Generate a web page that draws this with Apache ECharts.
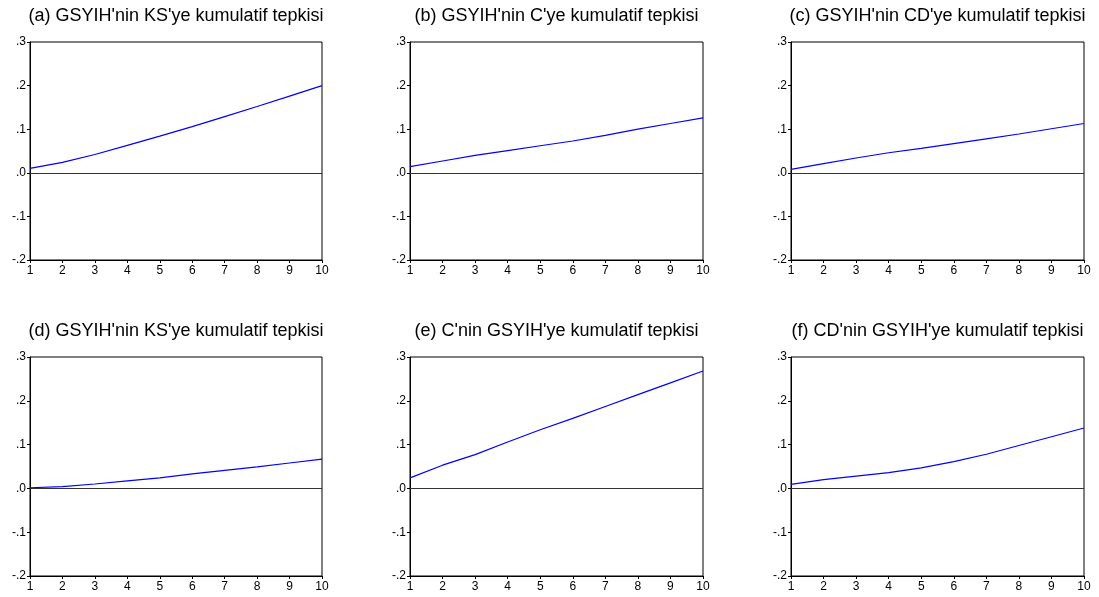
<!DOCTYPE html>
<html>
<head>
<meta charset="utf-8">
<script src="https://cdn.jsdelivr.net/npm/echarts@6/dist/echarts.min.js"></script>
<style>
  html, body { margin: 0; padding: 0; background: #fff; }
  #chart { width: 1099px; height: 597px; }
</style>
</head>
<body>
<div id="chart"></div>
<script>
// Forecast horizons (periods after the shock)
const horizons = ['1', '2', '3', '4', '5', '6', '7', '8', '9', '10'];

// Panel titles
const panelTitles = [
  "(a) GSYIH'nin KS'ye kumulatif tepkisi",
  "(b) GSYIH'nin C'ye kumulatif tepkisi",
  "(c) GSYIH'nin CD'ye kumulatif tepkisi",
  "(d) GSYIH'nin KS'ye kumulatif tepkisi",
  "(e) C'nin GSYIH'ye kumulatif tepkisi",
  "(f) CD'nin GSYIH'ye kumulatif tepkisi"
];

// Cumulative impulse responses, one array per panel
const respA = [0.010, 0.024, 0.042, 0.063, 0.084, 0.106, 0.129, 0.152, 0.176, 0.200];
const respB = [0.014, 0.027, 0.040, 0.051, 0.062, 0.073, 0.086, 0.100, 0.113, 0.126];
const respC = [0.008, 0.021, 0.034, 0.046, 0.056, 0.067, 0.078, 0.089, 0.101, 0.113];
const respD = [0.0015, 0.004, 0.010, 0.017, 0.024, 0.033, 0.041, 0.049, 0.058, 0.067];
const respE = [0.024, 0.053, 0.077, 0.106, 0.134, 0.160, 0.187, 0.214, 0.241, 0.268];
const respF = [0.009, 0.020, 0.028, 0.036, 0.047, 0.061, 0.078, 0.098, 0.118, 0.138];

// Shared value-axis range and tick step
const yMin = -0.2, yMax = 0.3, yStep = 0.1;

const responses = [respA, respB, respC, respD, respE, respF];

// Plot-area boxes (px): left, top, width, height
const colLeft = [30, 410, 791];
const colWidth = [292, 293, 293];
const rowTop = [42, 357];
const rowHeight = [218, 219];
const titleTop = [7, 322];

const FONT = 'Liberation Sans, Arial, sans-serif';

function fmtTick(v) {
  return Number(v).toFixed(1).replace('0.', '.');
}

const grids = [], xAxes = [], yAxes = [], series = [], titles = [];
responses.forEach((data, i) => {
  const r = Math.floor(i / 3), c = i % 3;
  grids.push({
    left: colLeft[c], top: rowTop[r], width: colWidth[c], height: rowHeight[r],
    show: true, borderColor: '#000', borderWidth: 1, backgroundColor: '#fff'
  });
  xAxes.push({
    type: 'category', gridIndex: i, data: horizons, boundaryGap: false,
    axisLine: { show: true, onZero: false, lineStyle: { color: '#000', width: 1 } },
    axisTick: { show: true, inside: false, length: 3, alignWithLabel: true, lineStyle: { color: '#000' } },
    axisLabel: { color: '#000', fontSize: 12, fontFamily: FONT, margin: 5, interval: 0 },
    splitLine: { show: false }
  });
  yAxes.push({
    type: 'value', gridIndex: i, min: yMin, max: yMax, interval: yStep,
    axisLine: { show: true, lineStyle: { color: '#000', width: 1 } },
    axisTick: { show: true, inside: false, length: 3, lineStyle: { color: '#000' } },
    axisLabel: { color: '#000', fontSize: 12, fontFamily: FONT, margin: 4, formatter: fmtTick },
    splitLine: { show: false }
  });
  series.push({
    type: 'line', xAxisIndex: i, yAxisIndex: i, data: data,
    showSymbol: false, symbol: 'none', smooth: false, silent: true,
    lineStyle: { color: '#0000ff', width: 1.2 },
    markLine: {
      silent: true, symbol: 'none', label: { show: false },
      lineStyle: { color: '#333', width: 1.2, type: 'solid' },
      data: [{ yAxis: 0 }]
    },
    z: 3
  });
  titles.push({
    text: panelTitles[i],
    left: colLeft[c] + colWidth[c] / 2,
    top: titleTop[r],
    textAlign: 'center',
    padding: 0,
    textStyle: { fontSize: 18, fontWeight: 'normal', color: '#000', fontFamily: FONT }
  });
});

const chart = echarts.init(document.getElementById('chart'), null, { renderer: 'canvas' });
chart.setOption({
  backgroundColor: '#fff',
  animation: false,
  title: titles,
  grid: grids,
  xAxis: xAxes,
  yAxis: yAxes,
  series: series
});
</script>
</body>
</html>
